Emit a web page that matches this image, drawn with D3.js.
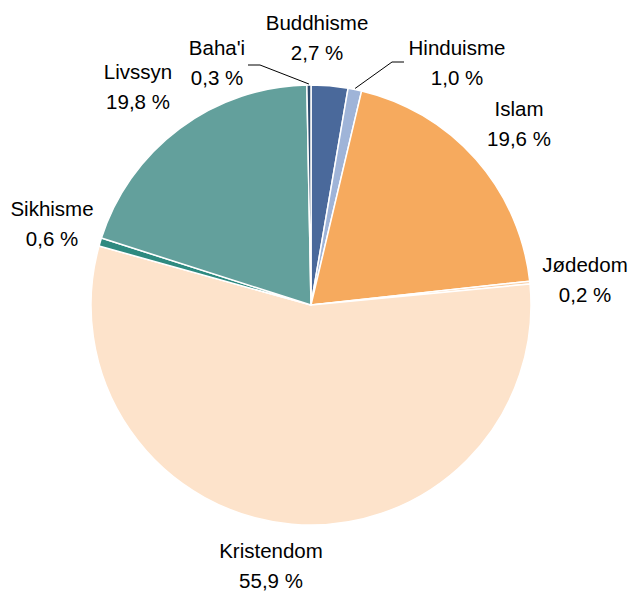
<!DOCTYPE html>
<html>
<head>
<meta charset="utf-8">
<script src="https://cdn.jsdelivr.net/npm/d3@7"></script>
<style>
  html, body { margin: 0; padding: 0; background: #fff; }
  svg { display: block; font-family: "Liberation Sans", Arial, sans-serif; }
</style>
</head>
<body>
<svg id="chart" width="630" height="592"></svg>
<script>
// Livssynsfordeling, prosent
const categories = ["Buddhisme", "Hinduisme", "Islam", "Jødedom", "Kristendom", "Sikhisme", "Livssyn", "Baha'i"];
const values = [2.7, 1.0, 19.6, 0.2, 55.9, 0.6, 19.8, 0.3];
const valueLabels = ["2,7 %", "1,0 %", "19,6 %", "0,2 %", "55,9 %", "0,6 %", "19,8 %", "0,3 %"];
const colors = ["#4a699b", "#9fb4d8", "#f6aa5e", "#f9cfa6", "#fde3cb", "#2e8a80", "#63a09c", "#2d4a6c"];

const W = 630, H = 592;
const cx = 311, cy = 305, R = 220;

// label anchors (centre x, first baseline y) and optional leader lines
const labelPos = {
  "Buddhisme":  { x: 317, y: 30 },
  "Hinduisme":  { x: 457, y: 55, leader: true, side: "right" },
  "Islam":      { x: 519, y: 116 },
  "Jødedom":    { x: 585, y: 272 },
  "Kristendom": { x: 271, y: 558 },
  "Sikhisme":   { x: 52,  y: 216 },
  "Livssyn":    { x: 138, y: 79 },
  "Baha'i":     { x: 217, y: 55, leader: true, side: "left" }
};

const svg = d3.select("#chart");
const g = svg.append("g").attr("transform", `translate(${cx},${cy})`);

const data = categories.map((c, i) => ({ name: c, value: values[i], label: valueLabels[i], color: colors[i] }));

const pie = d3.pie().value(d => d.value).sort(null).startAngle(0).endAngle(2 * Math.PI);
const arcs = pie(data);
const arc = d3.arc().innerRadius(0).outerRadius(R);

g.selectAll("path.slice")
  .data(arcs)
  .enter().append("path")
  .attr("class", "slice")
  .attr("d", arc)
  .attr("fill", d => d.data.color)
  .attr("stroke", "#fff")
  .attr("stroke-width", 1.5)
  .attr("stroke-linejoin", "round");

// leader lines for the thin slices at the top
arcs.forEach(a => {
  const p = labelPos[a.data.name];
  if (!p.leader) return;
  const mid = (a.startAngle + a.endAngle) / 2;
  const ex = cx + Math.sin(mid) * (R + 1);
  const ey = cy - Math.cos(mid) * (R + 1);
  let pts;
  if (p.side === "left") {
    pts = [[p.x + 31, p.y + 10], [p.x + 43, p.y + 10], [ex, ey]];
  } else {
    pts = [[p.x - 53, p.y + 7], [p.x - 65, p.y + 7], [ex, ey]];
  }
  svg.append("polyline")
    .attr("points", pts.map(q => q.join(",")).join(" "))
    .attr("fill", "none")
    .attr("stroke", "#000")
    .attr("stroke-width", 1);
});

// category and percentage labels
const labels = svg.selectAll("g.lbl")
  .data(arcs)
  .enter().append("g")
  .attr("class", "lbl");

labels.append("text")
  .attr("x", d => labelPos[d.data.name].x)
  .attr("y", d => labelPos[d.data.name].y)
  .attr("text-anchor", "middle")
  .attr("font-size", 20.5)
  .attr("fill", "#000")
  .text(d => d.data.name);

labels.append("text")
  .attr("x", d => labelPos[d.data.name].x)
  .attr("y", d => labelPos[d.data.name].y + 30)
  .attr("text-anchor", "middle")
  .attr("font-size", 20.5)
  .attr("fill", "#000")
  .text(d => d.data.label);
</script>
</body>
</html>
